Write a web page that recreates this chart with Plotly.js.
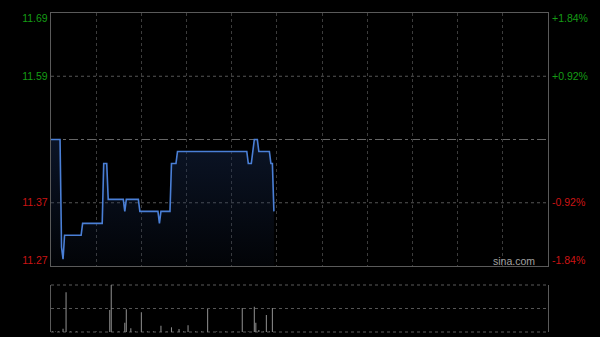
<!DOCTYPE html>
<html>
<head>
<meta charset="utf-8">
<script src="https://cdn.plot.ly/plotly-3.0.1.min.js"></script>
<style>html,body{margin:0;padding:0;background:#000;}#chart{width:600px;height:337px;}</style>
</head>
<body>
<div id="chart"></div>
<script>
// ---- data (minutes from 9:30 open, HK session 330 min) ----
const prevClose = 11.48;
const times  = [0, 6, 7, 8, 9, 20, 21, 34, 35, 37, 38, 48, 49, 50, 58, 59, 71, 72, 73, 79, 80, 83, 84, 130, 131, 133, 135, 137, 138, 145, 146, 147, 148];
const prices = [11.48, 11.48, 11.30, 11.28, 11.32, 11.32, 11.34, 11.34, 11.44, 11.44, 11.38, 11.38, 11.36, 11.38, 11.38, 11.36, 11.36, 11.34, 11.36, 11.36, 11.44, 11.44, 11.46, 11.46, 11.44, 11.44, 11.48, 11.48, 11.46, 11.46, 11.44, 11.44, 11.36];
const volTimes = [1, 3, 5, 8, 10, 13, 17, 24, 30, 39, 40, 45, 49, 50, 53, 56, 60, 64, 68, 73, 77, 80, 85, 88, 91, 96, 100, 104, 110, 116, 121, 127, 131, 135, 136, 138, 141, 143, 145, 147];
const volumes  = [6, 4, 5, 33, 397, 4, 5, 3, 6, 220, 470, 5, 93, 227, 37, 6, 197, 5, 4, 63, 5, 47, 30, 5, 67, 4, 6, 230, 5, 4, 6, 240, 5, 253, 93, 20, 5, 170, 6, 240];
const leftLabels  = ['11.69', '11.59', '11.37', '11.27'];
const rightLabels = ['+1.84%', '+0.92%', '-0.92%', '-1.84%'];
const pctLevels   = [1.84, 0.92, -0.92, -1.84];

const GREEN = '#159c15', RED = '#cc1414';
const lo = prevClose * (1 - 0.0184), hi = prevClose * (1 + 0.0184);
const mainPx = 253;
const perPx = (hi - lo) / mainPx;
const inset = 5.5 * perPx;
const tickPos = pctLevels.map(p => {
  const v = prevClose * (1 + p / 100);
  if (p === 1.84) return v - inset;
  if (p === -1.84) return v + inset;
  return v;
});
const colorOf = p => p > 0 ? GREEN : RED;
const leftText = leftLabels.map((t, i) => '<span style="color:' + colorOf(pctLevels[i]) + '">' + t + '</span>');
const rightText = rightLabels.map((t, i) => '<span style="color:' + colorOf(pctLevels[i]) + '">' + t + '</span>');
const maxVol = Math.max(...volumes);
const maxP = Math.max(...prices);

const traces = [
  {
    x: times, y: prices, type: 'scatter', mode: 'lines',
    line: {color: '#4a7fd6', width: 1.6},
    fill: 'tozeroy',
    fillgradient: {type: 'vertical', start: lo, stop: maxP,
      colorscale: [[0, 'rgba(25,45,85,0.08)'], [1, 'rgba(25,45,85,0.45)']]},
    xaxis: 'x', yaxis: 'y', hoverinfo: 'skip'
  },
  {
    // invisible companion so the right-hand percentage axis is drawn
    x: times, y: prices, type: 'scatter', mode: 'lines',
    line: {color: 'rgba(0,0,0,0)', width: 0},
    xaxis: 'x', yaxis: 'y2', hoverinfo: 'skip'
  },
  {
    x: volTimes, y: volumes, type: 'bar', width: 0.7,
    marker: {color: '#8a8a8a', line: {width: 0}},
    xaxis: 'x2', yaxis: 'y3', hoverinfo: 'skip'
  }
];

const axLine = '#5a5a5a';
const layout = {
  width: 600, height: 337,
  paper_bgcolor: '#000', plot_bgcolor: '#000',
  margin: {l: 51, r: 52, t: 13, b: 5},
  showlegend: false,
  font: {family: 'Liberation Sans, Arial, sans-serif', size: 10, color: '#999'},
  xaxis: {
    domain: [0, 1], range: [0, 330], anchor: 'y',
    showgrid: true, gridcolor: '#3c3c3c', griddash: 'dot', gridwidth: 1,
    tick0: 0, dtick: 30, showticklabels: false, ticks: '',
    showline: true, mirror: true, linecolor: axLine, linewidth: 1.2, zeroline: false
  },
  yaxis: {
    domain: [0.2069, 1], range: [lo, hi],
    tickmode: 'array', tickvals: tickPos, ticktext: leftText,
    ticks: '', ticklabelstandoff: 0,
    showgrid: false, zeroline: false,
    showline: true, mirror: true, linecolor: axLine, linewidth: 1.2,
    tickfont: {size: 10.5}
  },
  yaxis2: {
    overlaying: 'y', side: 'right', range: [lo, hi], anchor: 'x',
    tickmode: 'array', tickvals: tickPos, ticktext: rightText,
    ticks: '', ticklabelstandoff: 3,
    showgrid: false, zeroline: false, showline: false,
    tickfont: {size: 10.5}
  },
  xaxis2: {
    domain: [0, 1], range: [0, 330], anchor: 'y3', matches: 'x',
    showgrid: false, showticklabels: false, ticks: '', showline: false, zeroline: false
  },
  yaxis3: {
    domain: [0, 0.1473], range: [0, maxVol],
    tickmode: 'array', tickvals: [maxVol / 2],
    showticklabels: false, ticks: '',
    showgrid: true, gridcolor: '#555', griddash: 'dot', gridwidth: 1,
    zeroline: false, showline: true, mirror: true, linecolor: axLine, linewidth: 1.2
  },
  shapes: [
    {type: 'line', xref: 'x domain', x0: 0, x1: 1, yref: 'y', y0: prevClose, y1: prevClose,
     line: {color: '#666', width: 1, dash: 'dashdot'}, layer: 'below'},
    {type: 'line', xref: 'x domain', x0: 0, x1: 1, yref: 'y', y0: prevClose * 1.0092, y1: prevClose * 1.0092,
     line: {color: '#555', width: 1, dash: 'dot'}, layer: 'below'},
    {type: 'line', xref: 'x domain', x0: 0, x1: 1, yref: 'y', y0: prevClose * 0.9908, y1: prevClose * 0.9908,
     line: {color: '#555', width: 1, dash: 'dot'}, layer: 'below'},
    {type: 'line', xref: 'x2 domain', x0: 0, x1: 1, yref: 'y3 domain', y0: 1, y1: 1,
     line: {color: '#5a5a5a', width: 1.2, dash: 'dot'}, layer: 'below'},
    {type: 'line', xref: 'x2 domain', x0: 0, x1: 1, yref: 'y3 domain', y0: 0, y1: 0,
     line: {color: '#5a5a5a', width: 1.2, dash: 'dot'}, layer: 'below'}
  ],
  annotations: [
    {text: 'sina.com', xref: 'paper', yref: 'paper', x: 0.978, y: 0.2226,
     xanchor: 'right', yanchor: 'middle', showarrow: false,
     font: {size: 10.5, color: '#a0a0a0'}}
  ]
};

Plotly.newPlot('chart', traces, layout, {staticPlot: true, displayModeBar: false});
</script>
</body>
</html>
